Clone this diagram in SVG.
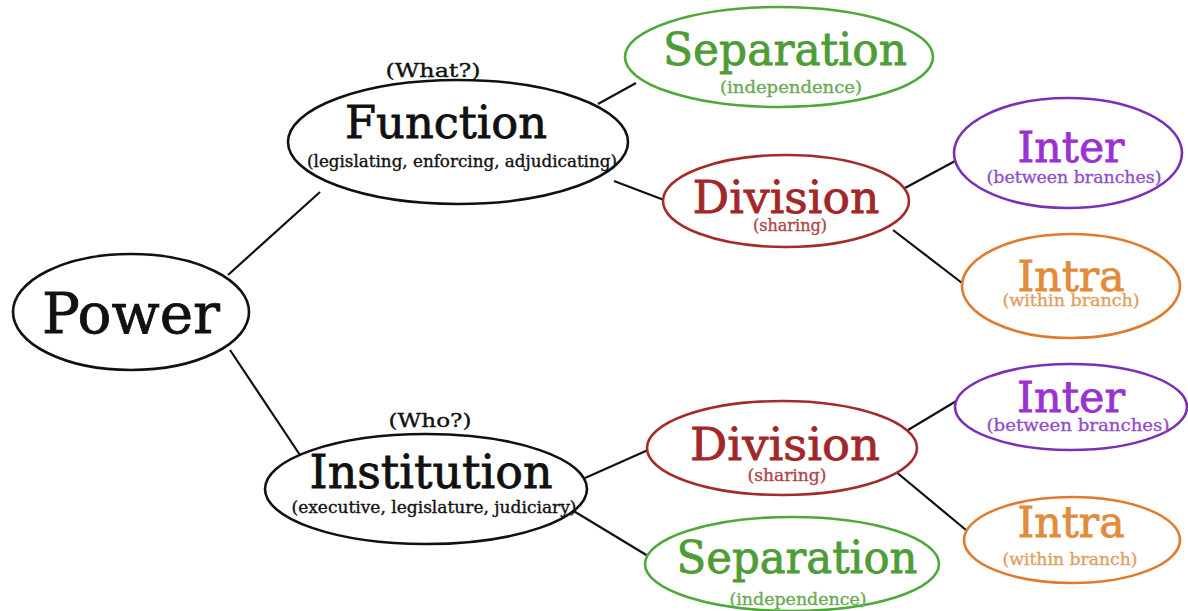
<svg xmlns="http://www.w3.org/2000/svg" width="1188" height="611" viewBox="0 0 1188 611">
<style>
text{font-family:"DejaVu Serif","Liberation Serif",serif;text-anchor:middle}
.n{fill:#fff;stroke-width:2.6}
.k{stroke:#111}.kt{fill:#111;stroke:#111}
.g{stroke:#4fa83a}.gt{fill:#4e9c36;stroke:#4e9c36}.gs{fill:#6aab52;stroke:#6aab52}
.r{stroke:#a52b2b}.rt{fill:#a1282a;stroke:#a1282a}.rs{fill:#b0454a;stroke:#b0454a}
.p{stroke:#7b2fb6}.pt{fill:#9a32d2;stroke:#9a32d2}.ps{fill:#9150c8;stroke:#9150c8}
.o{stroke:#e07a2c}.ot{fill:#e08c3a;stroke:#e08c3a}.os{fill:#e0a060;stroke:#e0a060}
.big{font-size:45px}
text{stroke-width:0.8}
.sub{font-size:16px;stroke-width:0.35}
#edges line{stroke:#111;stroke-width:2.2}
</style>
<rect width="1188" height="611" fill="#fff"/>
<g id="edges">
<line x1="228" y1="275" x2="320" y2="192"/>
<line x1="230" y1="350" x2="300" y2="455"/>
<line x1="598" y1="104" x2="636" y2="83"/>
<line x1="614" y1="181" x2="664" y2="200"/>
<line x1="905" y1="188" x2="957" y2="160"/>
<line x1="893" y1="230" x2="962" y2="283"/>
<line x1="585" y1="478" x2="648" y2="450"/>
<line x1="572" y1="510" x2="648" y2="556"/>
<line x1="908" y1="430" x2="958" y2="400"/>
<line x1="895" y1="471" x2="966" y2="530"/>
</g>
<g id="power">
<ellipse class="n k" cx="131" cy="312" rx="118" ry="58"/>
<text class="kt" x="131" y="333" font-size="56" textLength="178" lengthAdjust="spacingAndGlyphs">Power</text>
</g>
<g id="function">
<text class="kt sub" x="433" y="77" font-size="19" style="font-size:19px" textLength="95" lengthAdjust="spacingAndGlyphs">(What?)</text>
<ellipse class="n k" cx="458" cy="142" rx="170" ry="62"/>
<text class="kt big" x="446" y="138" textLength="202" lengthAdjust="spacingAndGlyphs">Function</text>
<text class="kt sub" x="462" y="167" textLength="310" lengthAdjust="spacingAndGlyphs">(legislating, enforcing, adjudicating)</text>
</g>
<g id="separation1">
<ellipse class="n g" cx="779" cy="57" rx="154" ry="50"/>
<text class="gt" x="785" y="65" font-size="44" textLength="244" lengthAdjust="spacingAndGlyphs">Separation</text>
<text class="gs sub" x="791" y="93" textLength="142" lengthAdjust="spacingAndGlyphs">(independence)</text>
</g>
<g id="division1">
<ellipse class="n r" cx="786" cy="201" rx="123" ry="46"/>
<text class="rt big" x="786" y="213" textLength="187" lengthAdjust="spacingAndGlyphs">Division</text>
<text class="rs sub" x="790" y="231" textLength="74" lengthAdjust="spacingAndGlyphs">(sharing)</text>
</g>
<g id="inter1">
<ellipse class="n p" cx="1068" cy="153" rx="114" ry="55"/>
<text class="pt" x="1071" y="162" font-size="43" textLength="107" lengthAdjust="spacingAndGlyphs">Inter</text>
<text class="ps sub" x="1074" y="183" textLength="175" lengthAdjust="spacingAndGlyphs">(between branches)</text>
</g>
<g id="intra1">
<ellipse class="n o" cx="1071" cy="286" rx="109" ry="52"/>
<text class="ot" x="1071" y="291" font-size="43" textLength="107" lengthAdjust="spacingAndGlyphs">Intra</text>
<text class="os sub" x="1071" y="306" textLength="137" lengthAdjust="spacingAndGlyphs">(within branch)</text>
</g>
<g id="institution">
<text class="kt sub" x="430" y="427" style="font-size:19px" textLength="83" lengthAdjust="spacingAndGlyphs">(Who?)</text>
<ellipse class="n k" cx="426" cy="489" rx="161" ry="55"/>
<text class="kt" x="431" y="488" font-size="46" textLength="243" lengthAdjust="spacingAndGlyphs">Institution</text>
<text class="kt sub" x="434" y="513" textLength="285" lengthAdjust="spacingAndGlyphs">(executive, legislature, judiciary)</text>
</g>
<g id="division2">
<ellipse class="n r" cx="782" cy="448" rx="135" ry="47"/>
<text class="rt big" x="785" y="460" textLength="190" lengthAdjust="spacingAndGlyphs">Division</text>
<text class="rs sub" x="787" y="481" textLength="79" lengthAdjust="spacingAndGlyphs">(sharing)</text>
</g>
<g id="separation2">
<ellipse class="n g" cx="792" cy="564" rx="147" ry="47"/>
<text class="gt" x="797" y="573" font-size="44" textLength="241" lengthAdjust="spacingAndGlyphs">Separation</text>
<text class="gs sub" x="798" y="605" textLength="137" lengthAdjust="spacingAndGlyphs">(independence)</text>
</g>
<g id="inter2">
<ellipse class="n p" cx="1071" cy="407" rx="116" ry="43"/>
<text class="pt" x="1071" y="412" font-size="43" textLength="108" lengthAdjust="spacingAndGlyphs">Inter</text>
<text class="ps sub" x="1078" y="431" textLength="183" lengthAdjust="spacingAndGlyphs">(between branches)</text>
</g>
<g id="intra2">
<ellipse class="n o" cx="1072" cy="540" rx="108" ry="43"/>
<text class="ot" x="1071" y="537" font-size="43" textLength="107" lengthAdjust="spacingAndGlyphs">Intra</text>
<text class="os sub" x="1070" y="565" textLength="135" lengthAdjust="spacingAndGlyphs">(within branch)</text>
</g>
</svg>
